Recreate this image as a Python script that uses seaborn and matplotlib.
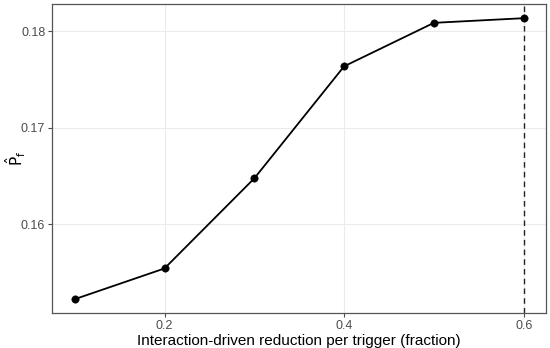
import numpy as np
import pandas as pd
import seaborn as sns
import matplotlib.pyplot as plt

# reduction fraction vs estimated P_f
reduction = [0.1, 0.2, 0.3, 0.4, 0.5, 0.6]
p_hat = [0.15227, 0.15545, 0.16477, 0.17636, 0.18086, 0.18134]
xticks = [0.2, 0.4, 0.6]
yticks = [0.16, 0.17, 0.18]
vline_x = 0.6

df = pd.DataFrame({'reduction': reduction, 'p_hat': p_hat})

sns.set_theme(style='whitegrid')
plt.rcParams['font.family'] = ['Liberation Sans', 'DejaVu Sans']
plt.rcParams['mathtext.fontset'] = 'dejavusans'

fig, ax = plt.subplots(figsize=(5.5, 3.48), dpi=100)
sns.lineplot(data=df, x='reduction', y='p_hat', color='black', linewidth=1.3, ax=ax)
sns.scatterplot(data=df, x='reduction', y='p_hat', color='black', s=28, edgecolor='black', zorder=3, ax=ax)
ax.axvline(vline_x, color='#222222', linestyle=(0, (4, 3)), linewidth=1.0)

ax.set_xlim(0.075, 0.625)
ax.set_ylim(0.15082, 0.18279)
ax.set_xticks(xticks)
ax.set_yticks(yticks)
ax.set_xticklabels([f'{t:g}' for t in xticks])
ax.set_yticklabels([f'{t:g}' for t in yticks])

ax.grid(True, color='#ebebeb', linewidth=0.8)
ax.set_facecolor('white')
for s in ax.spines.values():
    s.set_color('#555555')
    s.set_linewidth(0.9)
ax.tick_params(axis='both', colors='#4d4d4d', labelsize=9, length=3, width=0.8,
               direction='out', bottom=True, left=True, pad=2)

ax.set_xlabel('Interaction-driven reduction per trigger (fraction)', fontsize=11, color='black', labelpad=1)
ax.set_ylabel(r'$\hat{\mathsf{P}}_{\mathsf{f}}$', fontsize=11, color='black', va='center')
ax.yaxis.set_label_coords(-0.075, 0.5)

fig.subplots_adjust(left=0.095, right=0.993, top=0.988, bottom=0.1)
plt.savefig('out.png', dpi=100)
